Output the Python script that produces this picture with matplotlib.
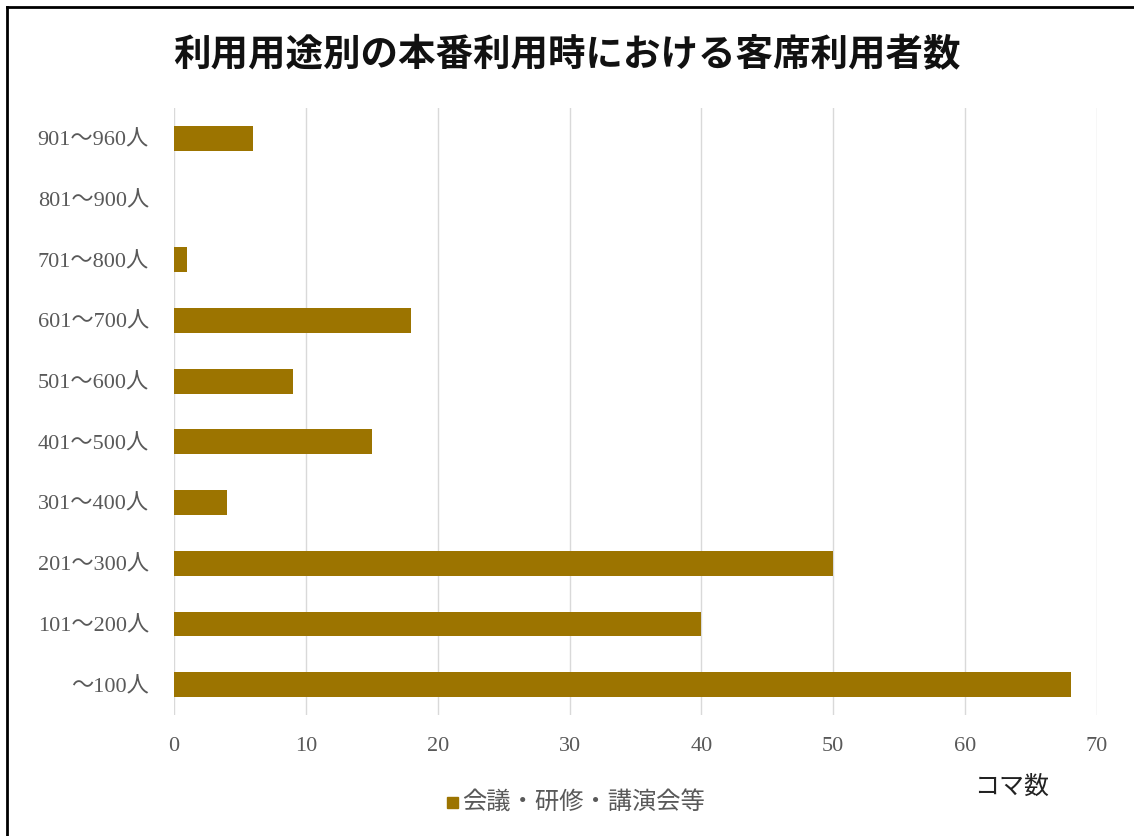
import matplotlib.pyplot as plt
from matplotlib.lines import Line2D
from matplotlib.patches import Rectangle

plt.rcParams['font.family'] = ['Liberation Serif', 'Noto Sans CJK JP', 'DejaVu Sans']

# データ
categories = ['～100人', '101～200人', '201～300人', '301～400人', '401～500人',
              '501～600人', '601～700人', '701～800人', '801～900人', '901～960人']
values = [68, 40, 50, 4, 15, 9, 18, 1, 0, 6]
series_name = '会議・研修・講演会等'
bar_color = '#9C7400'
text_gray = '#595959'

W, H = 1134, 836
fig = plt.figure(figsize=(W / 100, H / 100), dpi=100)
ax = fig.add_axes([174 / W, 1 - 715 / H, (1097 - 174) / W, (715 - 108) / H])

ax.barh(range(len(categories)), values, height=0.41, color=bar_color, zorder=3)

ax.set_xlim(0, 70)
ax.set_ylim(-0.5, len(categories) - 0.5)
ax.set_xticks(range(0, 71, 10))
ax.set_yticks(range(len(categories)))
ax.set_yticklabels(categories)
ax.tick_params(axis='both', length=0, colors=text_gray, labelsize=16)
ax.tick_params(axis='x', pad=16)
ax.tick_params(axis='y', pad=18)
ax.grid(axis='x', color='#D9D9D9', linewidth=1, zorder=0)
for s in ax.spines.values():
    s.set_visible(False)

# タイトル
fig.text(0.5, 1 - 55 / H, '利用用途別の本番利用時における客席利用者数',
         ha='center', va='center', fontsize=27, fontweight='bold',
         family=['Noto Sans CJK JP'], color='#111111')

# 軸ラベル
fig.text(1012 / W, 1 - 787 / H, 'コマ数', ha='center', va='center',
         fontsize=18, color='#222222')

# 凡例
fig.patches.append(Rectangle((447 / W, 1 - 808 / H), 11 / W, 11 / H,
                             transform=fig.transFigure, color=bar_color, figure=fig))
fig.text(462 / W, 1 - 802 / H, series_name, ha='left', va='center',
         fontsize=17.5, color=text_gray)

# 枠線（左・上）
fig.add_artist(Line2D([7 / W, 7 / W], [0, 1 - 7 / H], transform=fig.transFigure,
                      color='black', linewidth=2))
fig.add_artist(Line2D([7 / W, 1], [1 - 7 / H, 1 - 7 / H], transform=fig.transFigure,
                      color='black', linewidth=2))

plt.savefig('out.png', dpi=100)
